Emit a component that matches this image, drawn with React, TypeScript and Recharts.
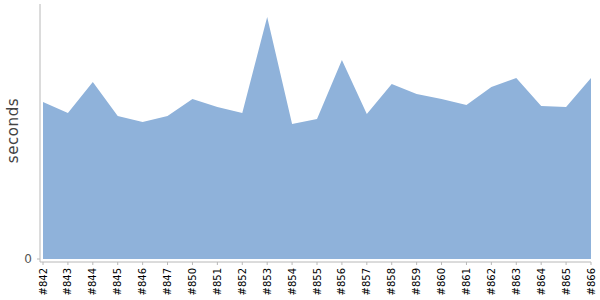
import { AreaChart, Area, XAxis, YAxis } from 'recharts';

const builds = [
  '#842', '#843', '#844', '#845', '#846', '#847', '#850', '#851', '#852', '#853', '#854', '#855',
  '#856', '#857', '#858', '#859', '#860', '#861', '#862', '#863', '#864', '#865', '#866',
];

const seconds = [
  157, 146, 177, 143, 137, 143, 160, 152, 146, 242, 135, 140,
  199, 145, 175, 165, 160, 154, 172, 181, 153, 152, 181,
];

const yTicks = [0];

const data = builds.map((name, i) => ({ name, seconds: seconds[i] }));

// rotated build label under each tick
function BuildTick({ x, y, payload }: any) {
  return (
    <g transform={`translate(${x},${y})`}>
      <text
        transform='rotate(-90)'
        textAnchor='end'
        dy='0.35em'
        fontSize={10}
        fontFamily='DejaVu Sans'
        fill='#000'
      >
        {payload.value}
      </text>
    </g>
  );
}

function App() {
  return (
    <div style={{ position: 'absolute', left: 0, top: 0 }}>
      <AreaChart
        width={600}
        height={300}
        data={data}
        margin={{ top: 4, right: 9, left: 0, bottom: 0 }}
      >
        <XAxis
          dataKey='name'
          interval={0}
          height={38}
          padding={{ left: 3, right: 0 }}
          tickSize={3}
          tickMargin={3}
          stroke='#b8b8b8'
          tick={<BuildTick />}
        />
        <YAxis
          width={40}
          domain={[0, 255]}
          ticks={yTicks}
          padding={{ top: 0, bottom: 3 }}
          tickSize={3}
          tickMargin={5}
          stroke='#b8b8b8'
          tick={{ fill: '#555', fontSize: 12, fontFamily: 'DejaVu Sans' }}
          label={{
            value: 'seconds',
            content: () => (
              <text
                x={12.5}
                y={130.5}
                transform='rotate(-90 12.5 130.5)'
                textAnchor='middle'
                dominantBaseline='central'
                fontSize={15}
                letterSpacing={0.6}
                fontFamily='DejaVu Sans'
                fill='#444'
              >
                seconds
              </text>
            ),
          }}
        />
        <Area
          type='linear'
          dataKey='seconds'
          stroke='none'
          fill='#8fb2da'
          fillOpacity={1}
          isAnimationActive={false}
        />
      </AreaChart>
    </div>
  );
}

export default App;
